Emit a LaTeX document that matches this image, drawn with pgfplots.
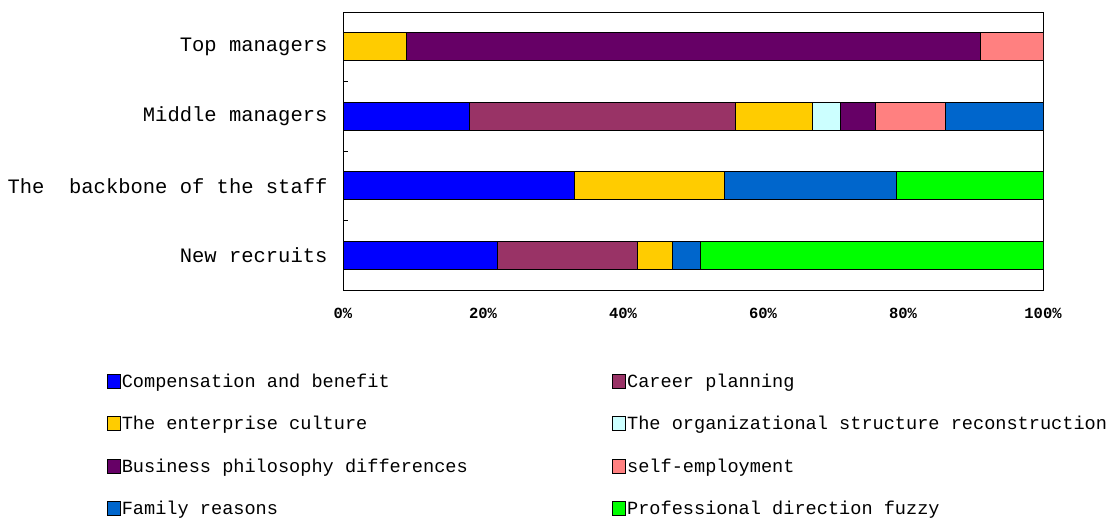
\documentclass[border=0pt]{standalone}
\usepackage{fontspec}
\setmainfont{Liberation Mono}
\usepackage{pgfplots}
\pgfplotsset{compat=1.18}
\definecolor{cComp}{HTML}{0000FF}
\definecolor{cCareer}{HTML}{993366}
\definecolor{cCult}{HTML}{FFCC00}
\definecolor{cOrg}{HTML}{CCFFFF}
\definecolor{cBus}{HTML}{660066}
\definecolor{cSelf}{HTML}{FF8080}
\definecolor{cFam}{HTML}{0066CC}
\definecolor{cProf}{HTML}{00FF00}
\begin{document}
\begin{tikzpicture}[x=1pt,y=1pt]
\path[use as bounding box] (0,0) rectangle (1111,520);
\begin{axis}[
  at={(343pt,230pt)}, anchor=south west,
  scale only axis, width=700pt, height=278pt,
  xbar stacked, bar width=28pt,
  xmin=0, xmax=100, ymin=-0.5, ymax=3.5,
  axis line style={black, line width=1pt},
  ytick={0,1,2,3},
  yticklabels={New recruits, The\ \ backbone of the staff, Middle managers, Top managers},
  minor ytick={0.5,1.5,2.5},
  xtick={0,20,40,60,80,100},
  xticklabels={0\%,20\%,40\%,60\%,80\%,100\%},
  tick align=inside, major tick length=0pt, minor tick length=5pt,
  minor tick style={black, line width=1pt},
  ytick pos=left, xtick pos=bottom,
  /pgf/number format/assume math mode=true,
  yticklabel style={font=\fontsize{20.5}{20}\selectfont, xshift=-12pt},
  xticklabel style={font=\fontsize{15.5}{15}\selectfont\bfseries, yshift=-15pt},
  every axis plot/.append style={draw=black, line width=0.8pt},
  legend columns=2,
  legend cell align=left,
  legend image code/.code={\draw[#1, line width=0.8pt] (0pt,-7pt) rectangle (13pt,7pt);},
  legend style={at={(-0.3371,-0.2986)}, anchor=north west, draw=none, fill=none,
    inner sep=0pt, outer sep=0pt,
    font=\fontsize{18.6}{20}\selectfont,
    row sep=25.3pt,
    nodes={inner sep=1pt},
    /tikz/every even column/.append style={column sep=143.5pt}},
]
\addplot[fill=cComp]   coordinates {(22,0) (33,1) (18,2) (0,3)};
\addplot[fill=cCareer] coordinates {(20,0) (0,1) (38,2) (0,3)};
\addplot[fill=cCult]   coordinates {(5,0) (21.5,1) (11,2) (9,3)};
\addplot[fill=cOrg]    coordinates {(0,0) (0,1) (4,2) (0,3)};
\addplot[fill=cBus]    coordinates {(0,0) (0,1) (5,2) (82,3)};
\addplot[fill=cSelf]   coordinates {(0,0) (0,1) (10,2) (9,3)};
\addplot[fill=cFam]    coordinates {(4,0) (24.5,1) (14,2) (0,3)};
\addplot[fill=cProf]   coordinates {(49,0) (21,1) (0,2) (0,3)};
\legend{Compensation and benefit, Career planning, The enterprise culture, The organizational structure reconstruction, Business philosophy differences, self-employment, Family reasons, Professional direction fuzzy}
\end{axis}
\end{tikzpicture}
\end{document}
